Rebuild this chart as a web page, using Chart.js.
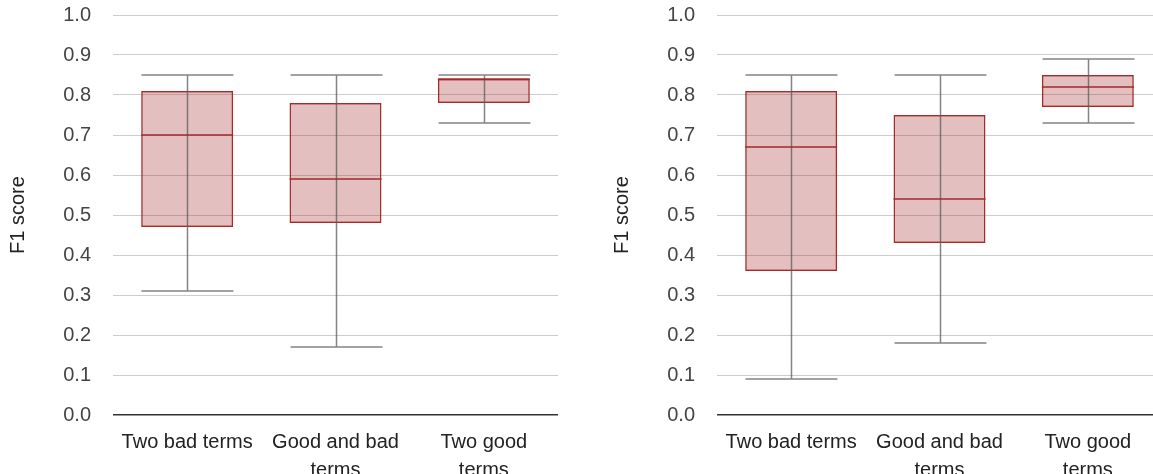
<!DOCTYPE html>
<html>
<head>
<meta charset="utf-8">
<title>F1 score box plots</title>
<script src="https://cdn.jsdelivr.net/npm/chart.js@4/dist/chart.umd.min.js"></script>
<style>
    html, body { margin: 0; padding: 0; background: #fff; overflow: hidden; }
    .wrap { position: relative; width: 1153px; height: 474px; overflow: hidden; }
    .panel { position: absolute; top: 0; width: 604px; height: 474px; }
</style>
</head>
<body>
<div class="wrap">
    <div class="panel" style="left:0"><canvas id="chartLeft"></canvas></div>
    <div class="panel" style="left:604px"><canvas id="chartRight"></canvas></div>
</div>
<script>
// categorias (rótulos em várias linhas como no original)
const categories = [['Two bad terms'], ['Good and bad', 'terms'], ['Two good', 'terms']];
const yTitle = 'F1 score';
const yMin = 0.0, yMax = 1.0, yStep = 0.1;

// painel esquerdo
const lowLeft    = [0.31, 0.17, 0.73];
const q1Left     = [0.47, 0.48, 0.78];
const medianLeft = [0.70, 0.59, 0.84];
const q3Left     = [0.81, 0.78, 0.84];
const highLeft   = [0.85, 0.85, 0.85];

// painel direito
const lowRight    = [0.09, 0.18, 0.73];
const q1Right     = [0.36, 0.43, 0.77];
const medianRight = [0.67, 0.54, 0.82];
const q3Right     = [0.81, 0.75, 0.85];
const highRight   = [0.85, 0.85, 0.89];

const FONT = 'Liberation Sans, Arial, sans-serif';

// desenha bigodes e mediana usando as escalas do gráfico
const boxPlotLines = {
    id: 'boxPlotLines',
    afterDatasetsDraw(chart, args, opts) {
        const { ctx, scales: { y } } = chart;
        const meta = chart.getDatasetMeta(0);
        ctx.save();
        meta.data.forEach((bar, i) => {
            const half = bar.width / 2;
            const cx = Math.round(bar.x) + 0.5;
            const yLow = y.getPixelForValue(opts.low[i]);
            const yHigh = y.getPixelForValue(opts.high[i]);
            const yMed = y.getPixelForValue(opts.median[i]);

            ctx.strokeStyle = 'rgba(90, 90, 90, 0.75)';
            ctx.lineWidth = 1.5;
            ctx.beginPath();
            ctx.moveTo(cx, yLow);
            ctx.lineTo(cx, yHigh);
            ctx.moveTo(cx - half, yLow);
            ctx.lineTo(cx + half, yLow);
            ctx.moveTo(cx - half, yHigh);
            ctx.lineTo(cx + half, yHigh);
            ctx.stroke();

            ctx.strokeStyle = '#a52a2a';
            ctx.beginPath();
            ctx.moveTo(bar.x - half, yMed);
            ctx.lineTo(bar.x + half, yMed);
            ctx.stroke();
        });
        ctx.restore();
    }
};

function criarBoxPlot(canvasId, low, q1, median, q3, high) {
    return new Chart(document.getElementById(canvasId), {
        type: 'bar',
        data: {
            labels: categories,
            datasets: [{
                data: q1.map((v, i) => [v, q3[i]]),
                backgroundColor: 'rgba(165, 42, 42, 0.3)',
                borderColor: '#a52a2a',
                borderWidth: 1.5,
                borderSkipped: false,
                barPercentage: 0.62,
                categoryPercentage: 1
            }]
        },
        options: {
            responsive: true,
            maintainAspectRatio: false,
            animation: false,
            layout: { padding: { top: 15, left: 2, right: 46, bottom: 0 } },
            plugins: {
                legend: { display: false },
                tooltip: { enabled: false },
                boxPlotLines: { low, high, median }
            },
            scales: {
                x: {
                    grid: { display: false },
                    border: { display: false },
                    ticks: {
                        color: '#222',
                        padding: 5,
                        maxRotation: 0,
                        autoSkip: false,
                        font: { family: FONT, size: 20, lineHeight: 1.4 }
                    },
                    afterFit: (scale) => { scale.height = 59; }
                },
                y: {
                    min: yMin,
                    max: yMax,
                    border: { display: false },
                    grid: {
                        drawTicks: false,
                        color: (c) => (c.tick && c.tick.value === 0 ? '#333' : '#ccc'),
                        lineWidth: (c) => (c.tick && c.tick.value === 0 ? 1.5 : 1)
                    },
                    ticks: {
                        stepSize: yStep,
                        padding: 22,
                        color: '#444',
                        font: { family: FONT, size: 20 },
                        callback: (v) => Number(v).toFixed(1)
                    },
                    title: {
                        display: true,
                        text: yTitle,
                        color: '#222',
                        font: { family: FONT, size: 20 },
                        padding: { top: 4, bottom: 4 }
                    },
                    afterFit: (scale) => {
                        scale.width = 111;
                        scale.paddingTop = 0;
                        scale.paddingBottom = 0;
                    }
                }
            }
        },
        plugins: [boxPlotLines]
    });
}

criarBoxPlot('chartLeft', lowLeft, q1Left, medianLeft, q3Left, highLeft);
criarBoxPlot('chartRight', lowRight, q1Right, medianRight, q3Right, highRight);
</script>
</body>
</html>
